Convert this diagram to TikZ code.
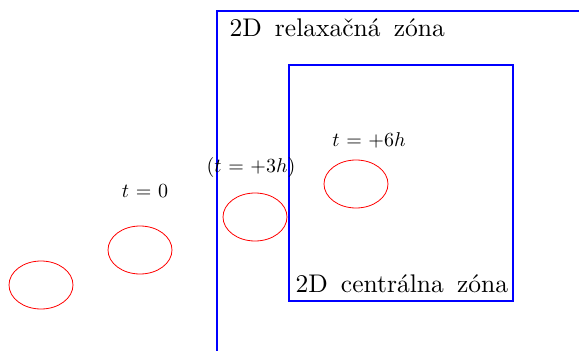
\documentclass[tikz,border=0pt]{standalone}
\usetikzlibrary{shapes.geometric}

\tikzset{
  zonebox/.style={draw=blue, line width=1.15pt},
  cloud/.style={draw=red, ellipse, line width=0.8pt, minimum width=64pt, minimum height=48pt, inner sep=0pt},
  zonetext/.style={anchor=base west, inner sep=0pt, scale=2.55, transform shape, font={\spaceskip=5.2pt\relax}},
  timetext/.style={anchor=base, inner sep=0pt, scale=2.0, transform shape, font={\thickmuskip=6mu\relax}}
}

\begin{document}
\begin{tikzpicture}[x=1pt, y=-1pt]

    % Frame
    \path[use as bounding box] (0,0) rectangle (579,351);

    % Zones
    \begin{scope}
      \clip (0,0) rectangle (579,351);
      \draw[zonebox] (217,11) rectangle (620,380);
    \end{scope}
    \node[zonetext] (relax) at (229,36) {2D relaxačná zóna};
    \draw[zonebox] (289,65) rectangle (513,301);
    \node[zonetext] (central) at (295,292) {2D centrálna zóna};

    % Positions of the cloud
    \node[cloud] (c0) at (41,285) {};
    \node[cloud] (c1) at (140,250) {};
    \node[cloud] (c2) at (255,217) {};
    \node[cloud] (c3) at (356,184) {};

    % Times
    \node[timetext] (t1) at (145,197) {$t=0$};
    \node[timetext] (t2) at (251,172) {$(t=+3h)$};
    \node[timetext] (t3) at (369,146) {$t=+6h$};

\end{tikzpicture}
\end{document}
